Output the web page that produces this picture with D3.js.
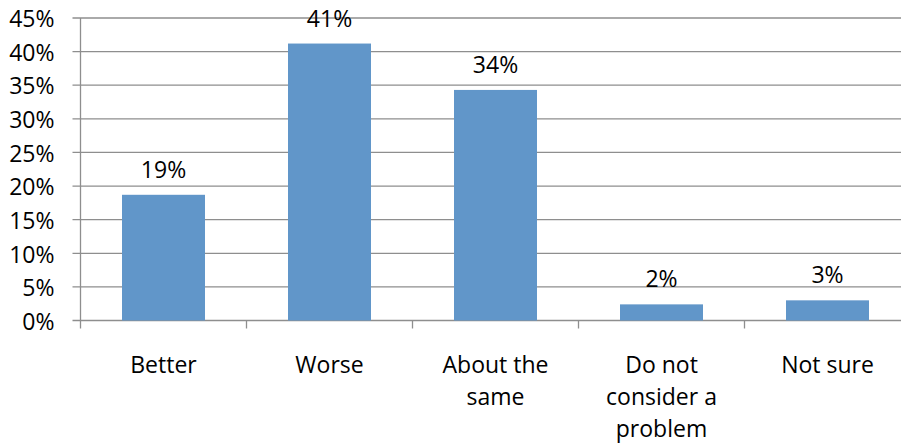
<!DOCTYPE html>
<html><head><meta charset="utf-8">
<script src="https://cdn.jsdelivr.net/npm/d3@7"></script>
<style>body{margin:0;background:#fff}svg{display:block}text{font-family:"Open Sans",sans-serif;fill:#000}</style>
</head><body>
<svg id="c" width="901" height="445"></svg>
<script>
const categories = ["Better", "Worse", "About the same", "Do not consider a problem", "Not sure"];
const categoryLines = [["Better"], ["Worse"], ["About the", "same"], ["Do not", "consider a", "problem"], ["Not sure"]];
const values = [0.187, 0.412, 0.343, 0.024, 0.030];
const valueLabels = ["19%", "41%", "34%", "2%", "3%"];
const yTicks = [0, 0.05, 0.10, 0.15, 0.20, 0.25, 0.30, 0.35, 0.40, 0.45];

(function () {
const svg = d3.select("#c");
const pL = 80.5, pR = 910.5, pT = 18, pB = 320.5;
const x = d3.scaleBand().domain(categories).range([pL, pR]).paddingInner(0.5).paddingOuter(0.25);
const y = d3.scaleLinear().domain([0, 0.45]).range([pB, pT]);
const grid = "#8e8e8e";

// gridlines
svg.append("g").selectAll("line").data(yTicks).join("line")
  .attr("x1", pL - 8).attr("x2", 901)
  .attr("y1", d => y(d)).attr("y2", d => y(d))
  .attr("stroke", grid).attr("stroke-width", 1.3);

// y axis
const yAxis = d3.axisLeft(y).tickValues(yTicks).tickFormat(d3.format(".0%")).tickSize(0).tickPadding(26);
const ga = svg.append("g").attr("transform", `translate(${pL},0)`).call(yAxis);
ga.select(".domain").remove();
ga.selectAll("text").attr("font-size", 23).attr("fill", "#000").attr("dy", "0.38em").style("font-family", '"Open Sans",sans-serif');

svg.append("line").attr("x1", pL).attr("x2", pL).attr("y1", pT).attr("y2", pB)
  .attr("stroke", grid).attr("stroke-width", 1.3);

// x category ticks
const step = x.step();
const tickXs = d3.range(categories.length + 1).map(i => pL + i * step);
svg.append("g").selectAll("line").data(tickXs).join("line")
  .attr("x1", d => d).attr("x2", d => d).attr("y1", pB).attr("y2", pB + 8)
  .attr("stroke", grid).attr("stroke-width", 1.3);

// bars
svg.append("g").selectAll("rect").data(values).join("rect")
  .attr("x", (d, i) => x(categories[i])).attr("width", x.bandwidth())
  .attr("y", d => y(d)).attr("height", d => pB - y(d))
  .attr("fill", "#6196c9");

// value labels
svg.append("g").selectAll("text").data(values).join("text")
  .attr("x", (d, i) => x(categories[i]) + x.bandwidth() / 2)
  .attr("y", d => y(d) - 17)
  .attr("text-anchor", "middle").attr("font-size", 23)
  .text((d, i) => valueLabels[i]);

// category labels
const cl = svg.append("g").selectAll("text").data(categoryLines).join("text")
  .attr("text-anchor", "middle").attr("font-size", 23)
  .attr("transform", (d, i) => `translate(${x(categories[i]) + x.bandwidth() / 2},372.5)`);
cl.selectAll("tspan").data(d => d).join("tspan")
  .attr("x", 0).attr("y", (d, j) => j * 32).text(d => d);
})();
</script>
</body></html>
